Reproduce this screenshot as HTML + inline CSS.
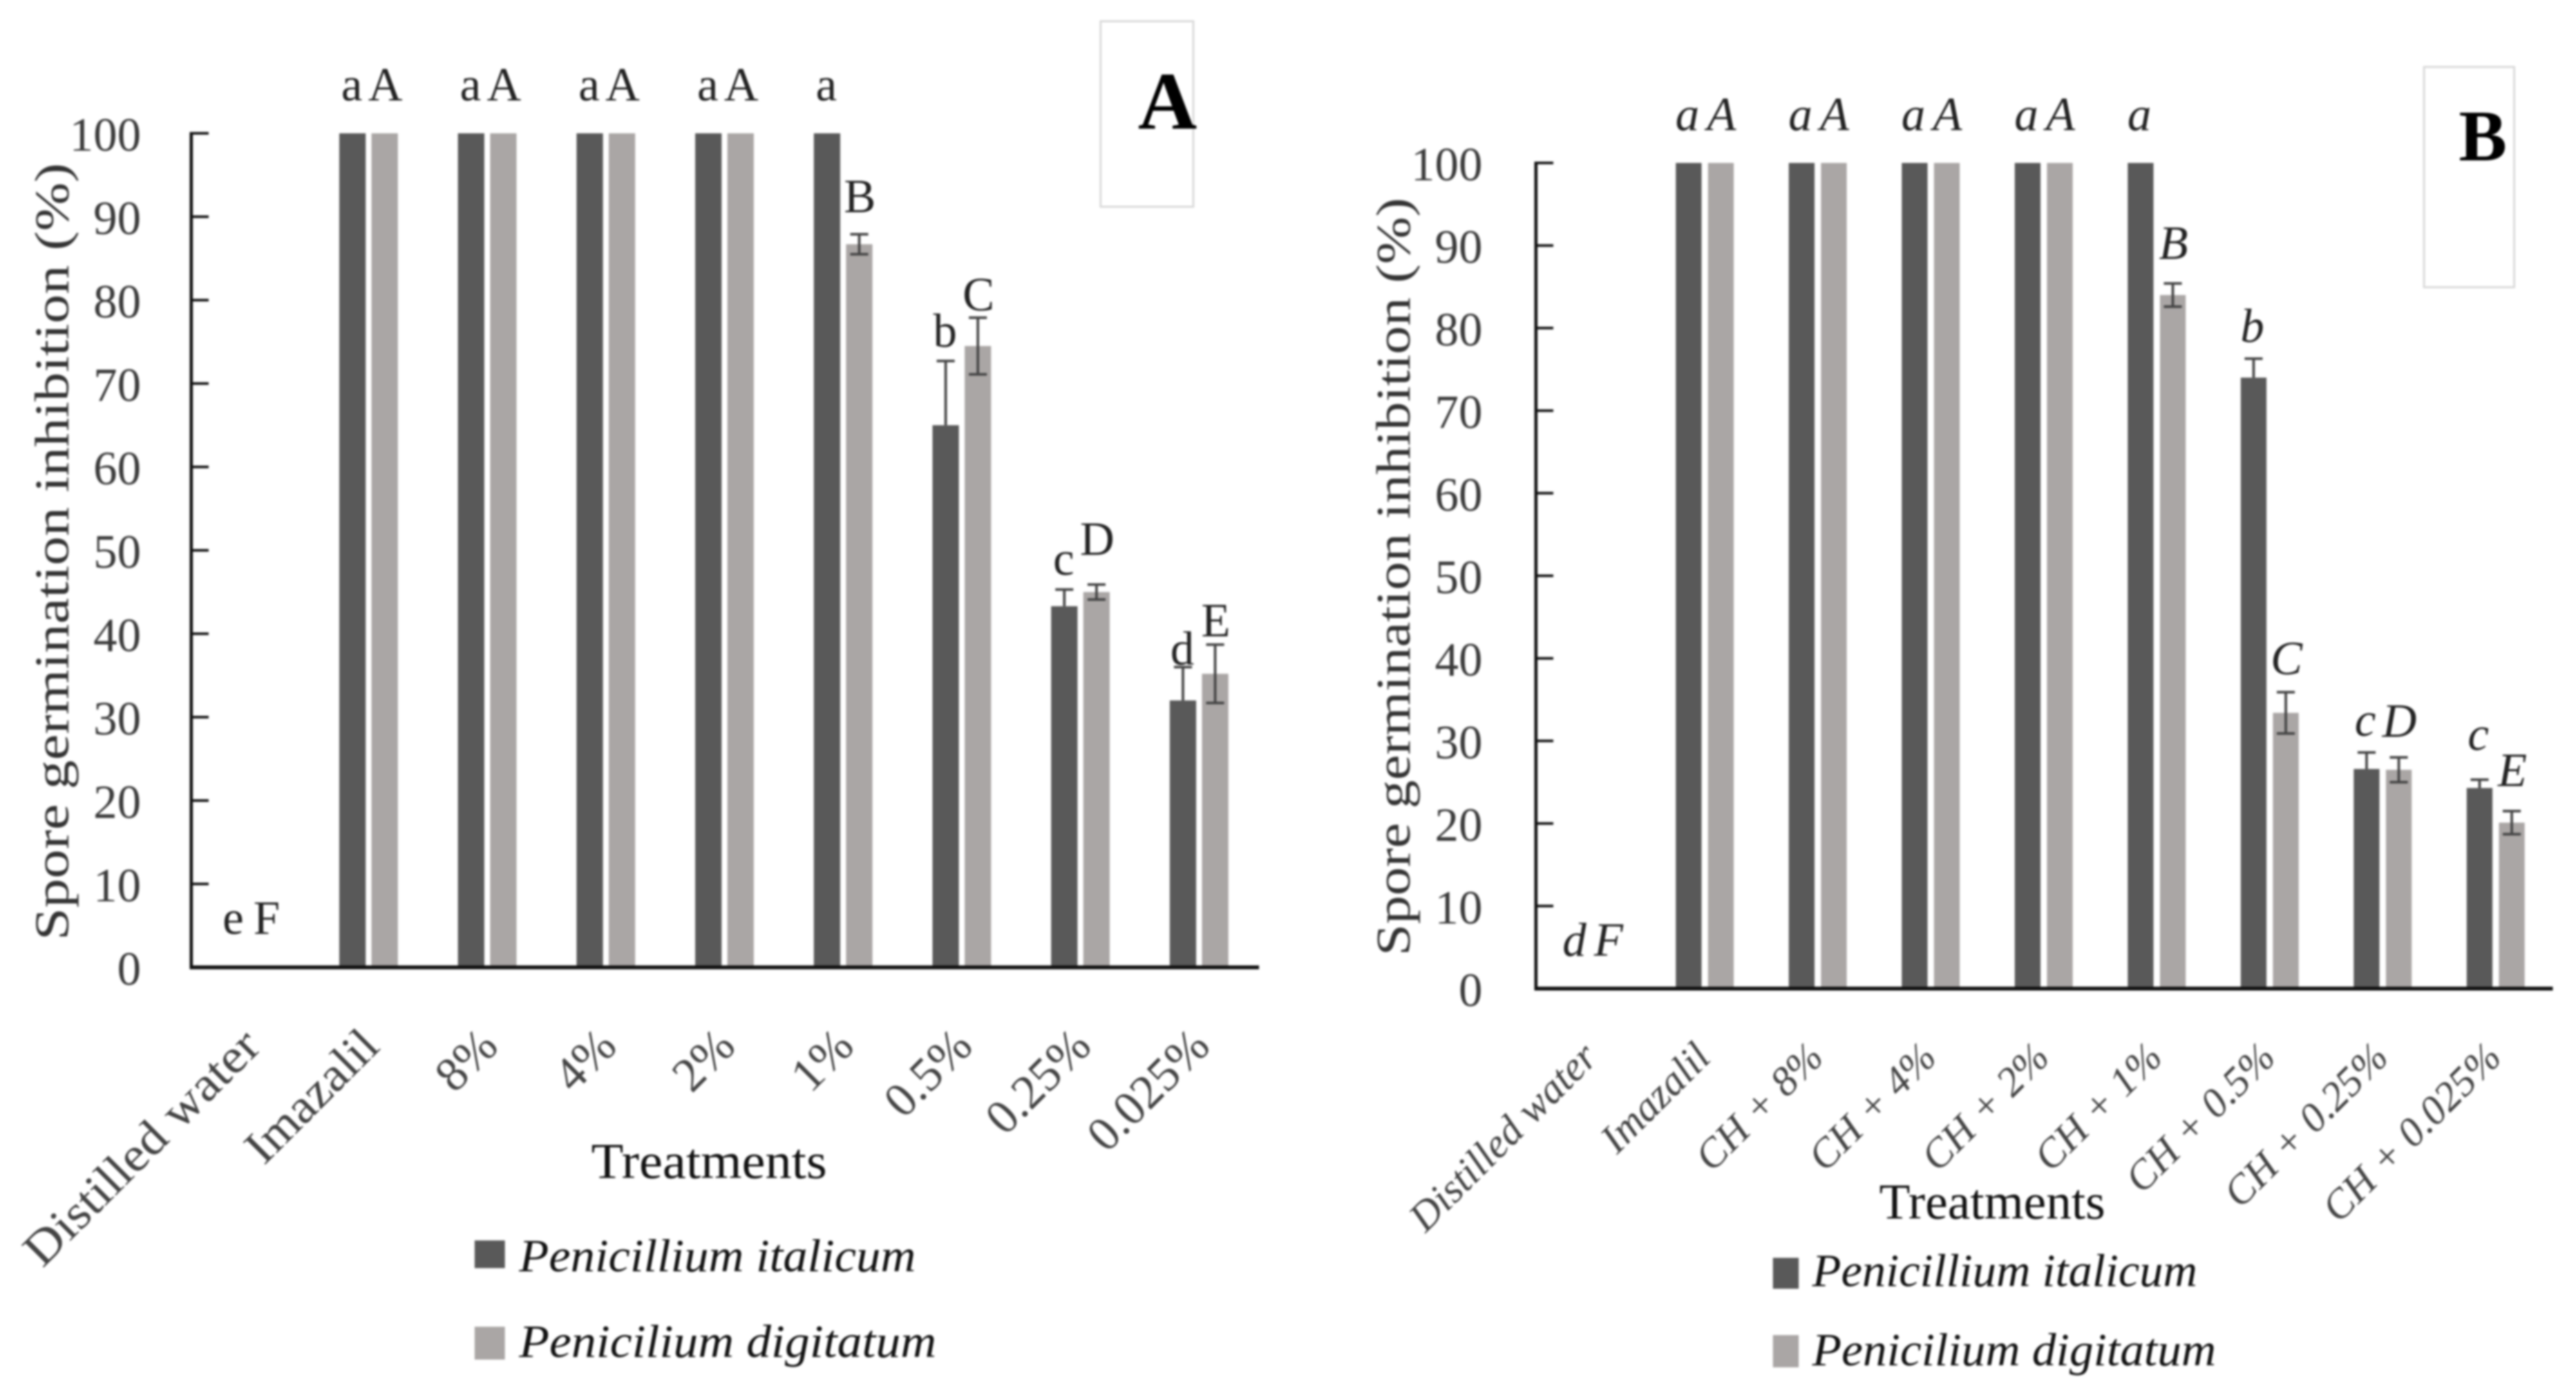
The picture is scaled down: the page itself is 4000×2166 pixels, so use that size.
<!DOCTYPE html>
<html lang="en">
<head>
<meta charset="utf-8">
<title>Spore germination inhibition charts</title>
<style>
html,body{margin:0;padding:0;background:#fff;width:4000px;height:2166px;overflow:hidden}
svg{display:block;filter:blur(1.6px)}
text{font-family:"Liberation Serif",serif;fill:#222}
.tick{font-size:74px;fill:#3a3a3a}
.title{font-size:75px;fill:#333}
.axis-name{font-size:78px;fill:#111}
.legend{font-size:72px;font-style:italic;fill:#111}
.letter{font-size:74px;fill:#222}
.cat{fill:#444}
.panel{font-weight:bold;fill:#000}
</style>
</head>
<body>
<svg id="figure" xmlns="http://www.w3.org/2000/svg" width="4000" height="2166" viewBox="0 0 4000 2166">
<rect x="0" y="0" width="4000" height="2166" fill="#fff"/>

<g id="panel-a">
<rect x="1709" y="33" width="144" height="288" fill="none" stroke="#d8d8d8" stroke-width="3"/>
<text class="panel" x="1767" y="200" font-size="127">A</text>
<text class="title" transform="translate(106,1460) rotate(-90)" textLength="1207" lengthAdjust="spacingAndGlyphs">Spore germination inhibition (%)</text>
<text class="axis-name" x="918" y="1829" textLength="366" lengthAdjust="spacingAndGlyphs">Treatments</text>
<rect x="737" y="1926" width="47" height="43" fill="#595959"/>
<text class="legend" x="806" y="1974" textLength="616" lengthAdjust="spacingAndGlyphs">Penicillium italicum</text>
<rect x="737" y="2060" width="47" height="51" fill="#aaa6a5"/>
<text class="legend" x="806" y="2107" textLength="648" lengthAdjust="spacingAndGlyphs">Penicilium digitatum</text>
</g>

<g id="panel-b">
<rect x="3764" y="104" width="140" height="342" fill="none" stroke="#d8d8d8" stroke-width="3"/>
<text class="panel" x="3818" y="249" font-size="112">B</text>
<text class="title" transform="translate(2189,1484) rotate(-90)" textLength="1177" lengthAdjust="spacingAndGlyphs">Spore germination inhibition (%)</text>
<text class="axis-name" x="2918" y="1892" textLength="351" lengthAdjust="spacingAndGlyphs">Treatments</text>
<rect x="2753" y="1953" width="40" height="48" fill="#595959"/>
<text class="legend" x="2814" y="1997" textLength="598" lengthAdjust="spacingAndGlyphs">Penicillium italicum</text>
<rect x="2753" y="2073" width="40" height="50" fill="#aaa6a5"/>
<text class="legend" x="2814" y="2120" textLength="627" lengthAdjust="spacingAndGlyphs">Penicilium digitatum</text>
</g>
</svg>

<script>
// Shared axis ticks
const tickLabels = [0, 10, 20, 30, 40, 50, 60, 70, 80, 90, 100];

// Panel A data
const categoriesA = ["Distilled water", "Imazalil", "8%", "4%", "2%", "1%", "0.5%", "0.25%", "0.025%"];
const italicumA = [0, 100, 100, 100, 100, 100, 65, 43.3, 32];
const digitatumA = [0, 100, 100, 100, 100, 86.7, 74.5, 45, 35.2];
const italicumErrA = [0, 0, 0, 0, 0, 0, 7.7, 2, 4];
const digitatumErrA = [0, 0, 0, 0, 0, 1.2, 3.4, 0.9, 3.5];
const lettersItalicumA = ["e", "a", "a", "a", "a", "a", "b", "c", "d"];
const lettersDigitatumA = ["F", "A", "A", "A", "A", "B", "C", "D", "E"];

// Panel B data
const categoriesB = ["Distilled water", "Imazalil", "CH + 8%", "CH + 4%", "CH + 2%", "CH + 1%", "CH + 0.5%", "CH + 0.25%", "CH + 0.025%"];
const italicumB = [0, 100, 100, 100, 100, 100, 74, 26.6, 24.3];
const digitatumB = [0, 100, 100, 100, 100, 84, 33.4, 26.5, 20.1];
const italicumErrB = [0, 0, 0, 0, 0, 0, 2.3, 2, 1];
const digitatumErrB = [0, 0, 0, 0, 0, 1.4, 2.5, 1.5, 1.4];
const lettersItalicumB = ["d", "a", "a", "a", "a", "a", "b", "c", "c"];
const lettersDigitatumB = ["F", "A", "A", "A", "A", "B", "C", "D", "E"];

// Layout only: clearance between each bar's top and its letter
const letterGapsA = { dark: [52, 51, 51, 51, 51, 51, 22, 23, 4], light: [52, 51, 51, 51, 51, 34, 11, 46, 13] };
const letterGapsB = { dark: [51, 51, 51, 51, 51, 51, 26, 26, 46], light: [51, 51, 51, 51, 51, 38, 28, 32, 39] };

// Layout only: horizontal stretch of the long rotated labels in panel A
const catStretchA = { "Distilled water": 1.09, "Imazalil": 1.05 };

const NS = "http://www.w3.org/2000/svg";

function make(parent, tag, attrs, txt) {
  const el = document.createElementNS(NS, tag);
  for (const k in attrs) el.setAttribute(k, attrs[k]);
  if (txt !== undefined) el.textContent = txt;
  parent.appendChild(el);
  return el;
}

function drawChart(parent, cfg) {
  const step = (cfg.x1 - cfg.x0) / cfg.categories.length;
  const xCenter = i => cfg.x0 + step * (i + 0.5);
  const yScale = v => cfg.y0 - v * (cfg.y0 - cfg.y100) / 100;

  cfg.seriesList.forEach(s => {
    s.values.forEach((v, i) => {
      const cx = xCenter(i) + s.offset;
      if (v > 0) {
        const bar = make(parent, "rect", { x: cx - cfg.barW / 2, y: yScale(v), width: cfg.barW, height: cfg.y0 - yScale(v), fill: s.color });
        
        
      }
      const err = s.errors[i];
      if (err > 0) {
        const top = yScale(v + err), bottom = yScale(v - err);
        const lower = s.lowerWhisker
          ? "V" + bottom + "M" + (cx - 14) + " " + bottom + "H" + (cx + 14)
          : "V" + yScale(v);
        const eb = make(parent, "path", {
          d: "M" + (cx - 14) + " " + top + "H" + (cx + 14) + "M" + cx + " " + top + lower,
          fill: "none", stroke: "#444", "stroke-width": 4
        });
        
        
      }
      if (s.letters[i]) {
        const t = make(parent, "text", {
          x: xCenter(i) + s.letterOffset, y: yScale(v + err) - s.gaps[i],
          "text-anchor": "middle", class: "letter", "font-style": cfg.italic ? "italic" : "normal"
        }, s.letters[i]);
        
        
      }
    });
  });

  const yAxis = make(parent, "line", { x1: cfg.x0, x2: cfg.x0, y1: yScale(100) - 2, y2: cfg.y0 + 3, stroke: "#111", "stroke-width": 5 });
  
  
  const xAxis = make(parent, "line", { x1: cfg.x0, x2: cfg.x1, y1: cfg.y0, y2: cfg.y0, stroke: "#111", "stroke-width": 6 });
  
  

  tickLabels.forEach(v => {
    if (v > 0) {
      const tk = make(parent, "line", { x1: cfg.x0, x2: cfg.x0 + 27, y1: yScale(v), y2: yScale(v), stroke: "#111", "stroke-width": 4 });
      
      
    }
    const lb = make(parent, "text", { x: cfg.tickRight, y: yScale(v) + 27, "text-anchor": "end", class: "tick" }, v);
    
    
  });

  cfg.categories.forEach((name, i) => {
    const ax = xCenter(i) + cfg.catDx;
    const c = make(parent, "text", {
      transform: "translate(" + ax + "," + cfg.catY + ") rotate(-45)",
      "text-anchor": "end", class: "cat", "font-style": cfg.italic ? "italic" : "normal",
      style: "font-size:" + cfg.catSize + "px"
    }, name);
    
    
    const stretch = cfg.catStretch[name];
    if (stretch) {
      c.setAttribute("textLength", c.getComputedTextLength() * stretch);
      c.setAttribute("lengthAdjust", "spacingAndGlyphs");
    }
  });
}

drawChart(document.getElementById("panel-a"), {
  id: "a", categories: categoriesA, x0: 297, x1: 1955, y0: 1502, y100: 207, barW: 41,
  tickRight: 219, catDx: 19, catY: 1628, catSize: 75, catStretch: catStretchA, italic: false,
  seriesList: [
    { key: "italicum", values: italicumA, errors: italicumErrA, letters: lettersItalicumA, gaps: letterGapsA.dark, color: "#595959", offset: -26, letterOffset: -27, lowerWhisker: false },
    { key: "digitatum", values: digitatumA, errors: digitatumErrA, letters: lettersDigitatumA, gaps: letterGapsA.light, color: "#aaa6a5", offset: 24, letterOffset: 25, lowerWhisker: true }
  ]
});

drawChart(document.getElementById("panel-b"), {
  id: "b", categories: categoriesB, x0: 2385, x1: 3964, y0: 1535, y100: 253, barW: 40,
  tickRight: 2302, catDx: 11, catY: 1645, catSize: 64, catStretch: {}, italic: true,
  seriesList: [
    { key: "italicum", values: italicumB, errors: italicumErrB, letters: lettersItalicumB, gaps: letterGapsB.dark, color: "#595959", offset: -26, letterOffset: -28, lowerWhisker: false },
    { key: "digitatum", values: digitatumB, errors: digitatumErrB, letters: lettersDigitatumB, gaps: letterGapsB.light, color: "#aaa6a5", offset: 24, letterOffset: 25, lowerWhisker: true }
  ]
});
</script>
</body>
</html>
